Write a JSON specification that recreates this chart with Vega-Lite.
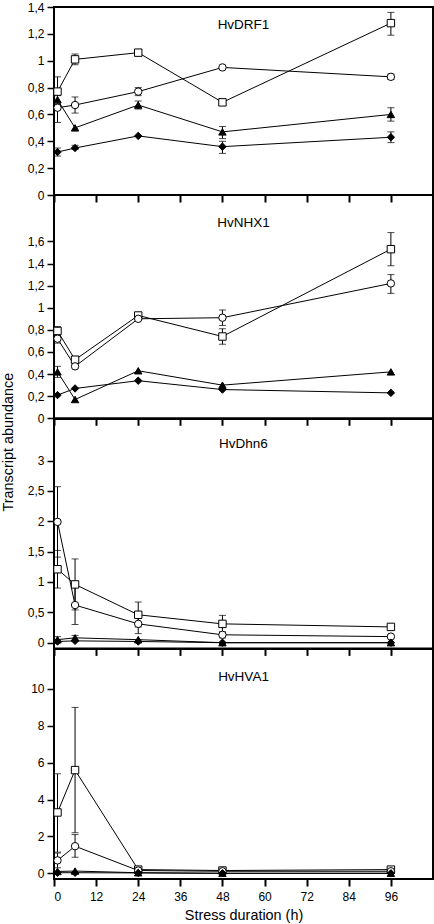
{
  "$schema": "https://vega.github.io/schema/vega-lite/v6.json",
  "padding": {"left": 0, "top": 0, "right": 0, "bottom": 0},
  "spacing": 0,
  "bounds": "flush",
  "title": {"text": "Transcript abundance", "orient": "left", "anchor": "middle", "fontSize": 14.4, "fontWeight": "normal", "font": "Liberation Sans", "color": "black", "offset": 1, "dx": 19},
  "data": {"values": [
    {"g": "DRF1", "s": "sq", "t": 1, "v": 0.77, "lo": 0.66, "hi": 0.88},
    {"g": "DRF1", "s": "sq", "t": 6, "v": 1.01, "lo": 0.97, "hi": 1.05},
    {"g": "DRF1", "s": "sq", "t": 24, "v": 1.06, "lo": 1.04, "hi": 1.08},
    {"g": "DRF1", "s": "sq", "t": 48, "v": 0.69},
    {"g": "DRF1", "s": "sq", "t": 96, "v": 1.28, "lo": 1.19, "hi": 1.36},
    {"g": "DRF1", "s": "ci", "t": 1, "v": 0.65, "lo": 0.54, "hi": 0.76},
    {"g": "DRF1", "s": "ci", "t": 6, "v": 0.67, "lo": 0.61, "hi": 0.73},
    {"g": "DRF1", "s": "ci", "t": 24, "v": 0.77, "lo": 0.74, "hi": 0.8},
    {"g": "DRF1", "s": "ci", "t": 48, "v": 0.95},
    {"g": "DRF1", "s": "ci", "t": 96, "v": 0.88, "lo": 0.86, "hi": 0.9},
    {"g": "DRF1", "s": "tr", "t": 1, "v": 0.71, "lo": 0.68, "hi": 0.74},
    {"g": "DRF1", "s": "tr", "t": 6, "v": 0.5},
    {"g": "DRF1", "s": "tr", "t": 24, "v": 0.67, "lo": 0.64, "hi": 0.7},
    {"g": "DRF1", "s": "tr", "t": 48, "v": 0.47, "lo": 0.42, "hi": 0.51},
    {"g": "DRF1", "s": "tr", "t": 96, "v": 0.6, "lo": 0.55, "hi": 0.65},
    {"g": "DRF1", "s": "di", "t": 1, "v": 0.32, "lo": 0.29, "hi": 0.35},
    {"g": "DRF1", "s": "di", "t": 6, "v": 0.35, "lo": 0.34, "hi": 0.37},
    {"g": "DRF1", "s": "di", "t": 24, "v": 0.44},
    {"g": "DRF1", "s": "di", "t": 48, "v": 0.36, "lo": 0.31, "hi": 0.4},
    {"g": "DRF1", "s": "di", "t": 96, "v": 0.43, "lo": 0.39, "hi": 0.47},

    {"g": "NHX1", "s": "sq", "t": 1, "v": 0.79, "lo": 0.75, "hi": 0.83},
    {"g": "NHX1", "s": "sq", "t": 6, "v": 0.53, "lo": 0.5, "hi": 0.56},
    {"g": "NHX1", "s": "sq", "t": 24, "v": 0.93},
    {"g": "NHX1", "s": "sq", "t": 48, "v": 0.74, "lo": 0.67, "hi": 0.81},
    {"g": "NHX1", "s": "sq", "t": 96, "v": 1.53, "lo": 1.38, "hi": 1.68},
    {"g": "NHX1", "s": "ci", "t": 1, "v": 0.72, "lo": 0.68, "hi": 0.76},
    {"g": "NHX1", "s": "ci", "t": 6, "v": 0.47},
    {"g": "NHX1", "s": "ci", "t": 24, "v": 0.9},
    {"g": "NHX1", "s": "ci", "t": 48, "v": 0.91, "lo": 0.84, "hi": 0.98},
    {"g": "NHX1", "s": "ci", "t": 96, "v": 1.22, "lo": 1.13, "hi": 1.3},
    {"g": "NHX1", "s": "tr", "t": 1, "v": 0.42, "lo": 0.37, "hi": 0.47},
    {"g": "NHX1", "s": "tr", "t": 6, "v": 0.17},
    {"g": "NHX1", "s": "tr", "t": 24, "v": 0.43},
    {"g": "NHX1", "s": "tr", "t": 48, "v": 0.3},
    {"g": "NHX1", "s": "tr", "t": 96, "v": 0.42},
    {"g": "NHX1", "s": "di", "t": 1, "v": 0.21},
    {"g": "NHX1", "s": "di", "t": 6, "v": 0.27},
    {"g": "NHX1", "s": "di", "t": 24, "v": 0.34},
    {"g": "NHX1", "s": "di", "t": 48, "v": 0.26},
    {"g": "NHX1", "s": "di", "t": 96, "v": 0.23},

    {"g": "Dhn6", "s": "sq", "t": 1, "v": 1.21, "lo": 0.9, "hi": 1.52},
    {"g": "Dhn6", "s": "sq", "t": 6, "v": 0.96, "lo": 0.54, "hi": 1.38},
    {"g": "Dhn6", "s": "sq", "t": 24, "v": 0.46, "lo": 0.26, "hi": 0.67},
    {"g": "Dhn6", "s": "sq", "t": 48, "v": 0.31, "lo": 0.17, "hi": 0.45},
    {"g": "Dhn6", "s": "sq", "t": 96, "v": 0.26},
    {"g": "Dhn6", "s": "ci", "t": 1, "v": 1.99, "lo": 1.41, "hi": 2.57},
    {"g": "Dhn6", "s": "ci", "t": 6, "v": 0.62, "lo": 0.3, "hi": 0.94},
    {"g": "Dhn6", "s": "ci", "t": 24, "v": 0.31, "lo": 0.15, "hi": 0.47},
    {"g": "Dhn6", "s": "ci", "t": 48, "v": 0.13, "lo": 0.08, "hi": 0.18},
    {"g": "Dhn6", "s": "ci", "t": 96, "v": 0.1},
    {"g": "Dhn6", "s": "tr", "t": 1, "v": 0.05, "lo": 0.0, "hi": 0.1},
    {"g": "Dhn6", "s": "tr", "t": 6, "v": 0.08, "lo": 0.04, "hi": 0.12},
    {"g": "Dhn6", "s": "tr", "t": 24, "v": 0.05},
    {"g": "Dhn6", "s": "tr", "t": 48, "v": 0.0},
    {"g": "Dhn6", "s": "tr", "t": 96, "v": 0.0},
    {"g": "Dhn6", "s": "di", "t": 1, "v": 0.02},
    {"g": "Dhn6", "s": "di", "t": 6, "v": 0.03},
    {"g": "Dhn6", "s": "di", "t": 24, "v": 0.02},
    {"g": "Dhn6", "s": "di", "t": 48, "v": 0.0},
    {"g": "Dhn6", "s": "di", "t": 96, "v": 0.0},

    {"g": "HVA1", "s": "sq", "t": 1, "v": 3.3, "lo": 1.15, "hi": 5.4},
    {"g": "HVA1", "s": "sq", "t": 6, "v": 5.6, "lo": 2.2, "hi": 9.0},
    {"g": "HVA1", "s": "sq", "t": 24, "v": 0.2},
    {"g": "HVA1", "s": "sq", "t": 48, "v": 0.15},
    {"g": "HVA1", "s": "sq", "t": 96, "v": 0.2},
    {"g": "HVA1", "s": "ci", "t": 1, "v": 0.7, "lo": 0.3, "hi": 1.1},
    {"g": "HVA1", "s": "ci", "t": 6, "v": 1.47, "lo": 0.87, "hi": 2.1},
    {"g": "HVA1", "s": "ci", "t": 24, "v": 0.15},
    {"g": "HVA1", "s": "ci", "t": 48, "v": 0.11},
    {"g": "HVA1", "s": "ci", "t": 96, "v": 0.11},
    {"g": "HVA1", "s": "tr", "t": 1, "v": 0.1},
    {"g": "HVA1", "s": "tr", "t": 6, "v": 0.12},
    {"g": "HVA1", "s": "tr", "t": 24, "v": 0.03},
    {"g": "HVA1", "s": "tr", "t": 48, "v": 0.0},
    {"g": "HVA1", "s": "tr", "t": 96, "v": 0.0},
    {"g": "HVA1", "s": "di", "t": 1, "v": 0.03},
    {"g": "HVA1", "s": "di", "t": 6, "v": 0.03},
    {"g": "HVA1", "s": "di", "t": 24, "v": 0.02},
    {"g": "HVA1", "s": "di", "t": 48, "v": 0.0},
    {"g": "HVA1", "s": "di", "t": 96, "v": 0.0}
  ]},
  "vconcat": [
    {
      "width": 379, "height": 188,
      "transform": [{"filter": "datum.g === 'DRF1'"}],
      "encoding": {
        "x": {"field": "t", "type": "quantitative", "scale": {"domain": [0, 108], "nice": false}, "axis": {"values": [0, 12, 24, 36, 48, 60, 72, 84, 96], "labels": false, "title": null}},
        "y": {"field": "v", "type": "quantitative", "title": null, "scale": {"domain": [0, 1.4], "nice": false, "zero": false}, "axis": {"values": [0, 0.2, 0.4, 0.6, 0.8, 1, 1.2, 1.4], "format": "~g", "labelExpr": "replace(datum.label, '.', ',')"}}
      },
      "layer": [
        {"mark": {"type": "line", "color": "black", "strokeWidth": 1}, "encoding": {"detail": {"field": "s"}}},
        {"transform": [{"filter": "isValid(datum.lo)"}], "mark": {"type": "errorbar", "ticks": {"size": 7, "color": "black"}, "rule": {"color": "black", "strokeWidth": 1}}, "encoding": {"y": {"field": "lo", "type": "quantitative", "title": null}, "y2": {"field": "hi"}}},
        {"mark": {"type": "point", "filled": true, "stroke": "black", "strokeWidth": 1, "size": 55, "opacity": 1}, "encoding": {
          "shape": {"field": "s", "type": "nominal", "scale": {"domain": ["sq", "ci", "tr", "di"], "range": ["square", "circle", "triangle-up", "diamond"]}, "legend": null},
          "fill": {"field": "s", "type": "nominal", "scale": {"domain": ["sq", "ci", "tr", "di"], "range": ["white", "white", "black", "black"]}, "legend": null}}},
        {"transform": [{"filter": "datum.s === 'sq' && datum.t === 1"}], "mark": {"type": "text", "fontSize": 13.5, "font": "Liberation Sans", "color": "black", "align": "center", "baseline": "alphabetic"}, "encoding": {"text": {"value": "HvDRF1"}, "x": {"datum": 54}, "y": {"datum": 1.239}}}
      ]
    },
    {
      "width": 379, "height": 223.3,
      "transform": [{"filter": "datum.g === 'NHX1'"}],
      "encoding": {
        "x": {"field": "t", "type": "quantitative", "scale": {"domain": [0, 108], "nice": false}, "axis": {"values": [0, 12, 24, 36, 48, 60, 72, 84, 96], "labels": false, "title": null}},
        "y": {"field": "v", "type": "quantitative", "title": null, "scale": {"domain": [0, 2.02], "nice": false, "zero": false}, "axis": {"values": [0, 0.2, 0.4, 0.6, 0.8, 1, 1.2, 1.4, 1.6], "format": "~g", "labelExpr": "replace(datum.label, '.', ',')"}}
      },
      "layer": [
        {"mark": {"type": "line", "color": "black", "strokeWidth": 1}, "encoding": {"detail": {"field": "s"}}},
        {"transform": [{"filter": "isValid(datum.lo)"}], "mark": {"type": "errorbar", "ticks": {"size": 7, "color": "black"}, "rule": {"color": "black", "strokeWidth": 1}}, "encoding": {"y": {"field": "lo", "type": "quantitative", "title": null}, "y2": {"field": "hi"}}},
        {"mark": {"type": "point", "filled": true, "stroke": "black", "strokeWidth": 1, "size": 55, "opacity": 1}, "encoding": {
          "shape": {"field": "s", "type": "nominal", "scale": {"domain": ["sq", "ci", "tr", "di"], "range": ["square", "circle", "triangle-up", "diamond"]}, "legend": null},
          "fill": {"field": "s", "type": "nominal", "scale": {"domain": ["sq", "ci", "tr", "di"], "range": ["white", "white", "black", "black"]}, "legend": null}}},
        {"transform": [{"filter": "datum.s === 'sq' && datum.t === 1"}], "mark": {"type": "text", "fontSize": 13.5, "font": "Liberation Sans", "color": "black", "align": "center", "baseline": "alphabetic"}, "encoding": {"text": {"value": "HvNHX1"}, "x": {"datum": 54}, "y": {"datum": 1.733}}}
      ]
    },
    {
      "width": 379, "height": 229.4,
      "transform": [{"filter": "datum.g === 'Dhn6'"}],
      "encoding": {
        "x": {"field": "t", "type": "quantitative", "scale": {"domain": [0, 108], "nice": false}, "axis": {"values": [0, 12, 24, 36, 48, 60, 72, 84, 96], "labels": false, "title": null}},
        "y": {"field": "v", "type": "quantitative", "title": null, "scale": {"domain": [-0.094, 3.685], "nice": false, "zero": false}, "axis": {"values": [0, 0.5, 1, 1.5, 2, 2.5, 3], "format": "~g", "labelExpr": "replace(datum.label, '.', ',')"}}
      },
      "layer": [
        {"mark": {"type": "line", "color": "black", "strokeWidth": 1}, "encoding": {"detail": {"field": "s"}}},
        {"transform": [{"filter": "isValid(datum.lo)"}], "mark": {"type": "errorbar", "ticks": {"size": 7, "color": "black"}, "rule": {"color": "black", "strokeWidth": 1}}, "encoding": {"y": {"field": "lo", "type": "quantitative", "title": null}, "y2": {"field": "hi"}}},
        {"mark": {"type": "point", "filled": true, "stroke": "black", "strokeWidth": 1, "size": 55, "opacity": 1}, "encoding": {
          "shape": {"field": "s", "type": "nominal", "scale": {"domain": ["sq", "ci", "tr", "di"], "range": ["square", "circle", "triangle-up", "diamond"]}, "legend": null},
          "fill": {"field": "s", "type": "nominal", "scale": {"domain": ["sq", "ci", "tr", "di"], "range": ["white", "white", "black", "black"]}, "legend": null}}},
        {"transform": [{"filter": "datum.s === 'sq' && datum.t === 1"}], "mark": {"type": "text", "fontSize": 13.5, "font": "Liberation Sans", "color": "black", "align": "center", "baseline": "alphabetic"}, "encoding": {"text": {"value": "HvDhn6"}, "x": {"datum": 54}, "y": {"datum": 3.21}}}
      ]
    },
    {
      "width": 379, "height": 230,
      "transform": [{"filter": "datum.g === 'HVA1'"}],
      "encoding": {
        "x": {"field": "t", "type": "quantitative", "scale": {"domain": [0, 108], "nice": false}, "axis": {"values": [0, 12, 24, 36, 48, 60, 72, 84, 96], "title": "Stress duration (h)", "labelPadding": 5, "titlePadding": 6}},
        "y": {"field": "v", "type": "quantitative", "title": null, "scale": {"domain": [-0.31, 12.17], "nice": false, "zero": false}, "axis": {"values": [0, 2, 4, 6, 8, 10], "format": "~g", "labelExpr": "replace(datum.label, '.', ',')"}}
      },
      "layer": [
        {"mark": {"type": "line", "color": "black", "strokeWidth": 1}, "encoding": {"detail": {"field": "s"}}},
        {"transform": [{"filter": "isValid(datum.lo)"}], "mark": {"type": "errorbar", "ticks": {"size": 7, "color": "black"}, "rule": {"color": "black", "strokeWidth": 1}}, "encoding": {"y": {"field": "lo", "type": "quantitative", "title": null}, "y2": {"field": "hi"}}},
        {"mark": {"type": "point", "filled": true, "stroke": "black", "strokeWidth": 1, "size": 55, "opacity": 1}, "encoding": {
          "shape": {"field": "s", "type": "nominal", "scale": {"domain": ["sq", "ci", "tr", "di"], "range": ["square", "circle", "triangle-up", "diamond"]}, "legend": null},
          "fill": {"field": "s", "type": "nominal", "scale": {"domain": ["sq", "ci", "tr", "di"], "range": ["white", "white", "black", "black"]}, "legend": null}}},
        {"transform": [{"filter": "datum.s === 'sq' && datum.t === 1"}], "mark": {"type": "text", "fontSize": 13.5, "font": "Liberation Sans", "color": "black", "align": "center", "baseline": "alphabetic"}, "encoding": {"text": {"value": "HvHVA1"}, "x": {"datum": 54}, "y": {"datum": 10.455}}}
      ]
    }
  ],
  "config": {
    "font": "Liberation Sans",
    "background": "white",
    "view": {"stroke": "black", "strokeWidth": 2},
    "axis": {"domain": false, "grid": false, "tickColor": "black", "labelColor": "black", "labelFontSize": 12, "labelFont": "Liberation Sans", "titleColor": "black", "titleFont": "Liberation Sans", "titleFontSize": 14.4, "titleFontWeight": "normal"},
    "axisY": {"tickSize": 7, "tickWidth": 1.5, "labelPadding": 3, "minExtent": 36},
    "axisX": {"tickSize": 7, "tickWidth": 2}
  }
}
